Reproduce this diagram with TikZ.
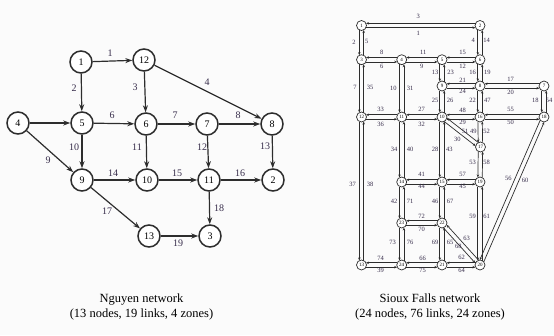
\documentclass[tikz,border=0pt]{standalone}
\usepackage{fontspec}
\setmainfont{Liberation Serif}
\usetikzlibrary{arrows.meta,calc}
\definecolor{ncol}{RGB}{45,45,45}
\definecolor{lcol}{RGB}{55,45,75}
\definecolor{bgc}{RGB}{251,251,251}
\begin{document}
\begin{tikzpicture}[x=1pt,y=-1pt,
  nnode/.style={circle,draw=ncol,line width=1.5pt,fill=white,minimum size=22pt,inner sep=0pt,font=\fontsize{10}{12}\selectfont},
  narrow/.style={draw=ncol,line width=1.2pt,-{Stealth[length=7pt,width=5pt]}},
  nlbl/.style={font=\fontsize{10}{12}\selectfont,text=lcol,inner sep=0pt},
  snode/.style={circle,draw=ncol,line width=0.7pt,fill=white,minimum size=10pt,inner sep=0pt,font=\fontsize{5}{6}\selectfont},
  slink/.style={draw=ncol,line width=0.7pt,-{Stealth[length=3pt,width=2.4pt]},shorten >=4.5pt,shorten <=4.5pt},
  slbl/.style={font=\fontsize{6.5}{7}\selectfont,text=lcol,inner sep=0pt},
  caption/.style={font=\fontsize{12.5}{14.5}\selectfont,align=center,inner sep=0pt}]
\useasboundingbox (0,0) rectangle (554,335);
\fill[bgc] (0,0) rectangle (554,335);
% ---------------- Nguyen network
\foreach \n/\x/\y in {1/81/62,12/144/60,4/18/123,5/82/123,6/146/124,7/207/124,8/272/124,9/82/180,10/147/180,11/209/180,2/273/180,13/149/236,3/210/236}
  \node[nnode] (n\n) at (\x,\y) {\n};
\foreach \a/\b in {1/12,1/5,12/6,12/8,4/5,5/6,6/7,7/8,5/9,4/9,6/10,7/11,8/2,9/10,10/11,11/2,9/13,11/3,13/3}
  \draw[narrow] (n\a) -- (n\b);
\foreach \t/\x/\y in {1/110/53,2/74/88,3/135/87,4/207/82,6/112/115,7/175/115,8/238/115,10/74/147,9/48/160,11/137/147,12/202/147,13/265/146,14/113/173,15/177/173,16/240/173,17/107/211,18/219/208,19/178/243}
  \node[nlbl] (nl\t) at (\x,\y) {\t};
% ---------------- Sioux Falls network
\foreach \n/\x/\y in {1/361.5/25.5,2/480/25.5,3/361.5/59.7,4/401.7/59.7,5/442/59.7,6/480/59.7,7/544/86,8/480/86,9/442/86,10/442/117,11/401.7/117,12/361.5/117,16/480/117,18/544/117,17/480.5/147,14/401.7/182,15/442/182,19/480/182,23/401.7/223,22/442/223,13/361.5/265,24/401.7/265,21/442/265,20/480/265}
  \node[snode] (s\n) at (\x,\y) {\n};
\foreach \a/\b in {1/2,1/3,2/6,3/4,3/12,4/5,4/11,5/6,5/9,6/8,7/8,7/18,8/9,8/16,9/10,10/11,10/15,10/16,10/17,11/12,11/14,12/13,13/24,14/15,14/23,15/19,15/22,16/17,16/18,17/19,18/20,19/20,20/21,20/22,21/22,21/24,22/23,23/24}{
  \draw[slink] ($(s\a.center)!2.2pt!-90:(s\b.center)$) -- ($(s\b.center)!2.2pt!90:(s\a.center)$);
  \draw[slink] ($(s\b.center)!2.2pt!-90:(s\a.center)$) -- ($(s\a.center)!2.2pt!90:(s\b.center)$);
}
\foreach \t/\x/\y in {3/418.3/16.7,1/418.3/33.3,2/354/42.7,5/366.7/41.7,4/473.3/40.7,14/486.7/40.7,8/381.7/52.7,6/381.7/66.7,11/423.3/52.7,9/421.7/66.7,15/462.7/52.7,12/462.7/66.7,13/435/72.7,23/450.7/72.7,16/472.7/72.7,19/487.3/72.7,21/462.7/80,24/462.7/91.7,17/510.7/79.3,20/510.7/92.7,7/355/87.3,35/370/87.3,10/393.3/88.3,31/410/88.3,25/435/100.7,26/450/100.7,22/472.7/100.7,47/487.3/100.7,18/535.3/100.7,54/549/100.7,33/380.7/109.3,36/380.7/124,27/421.7/109.3,32/421.7/124,48/462.7/110,29/462.7/122.7,55/510.7/109.3,50/510.7/122.7,30/457.3/139.3,51/465/131.7,49/473.3/131.7,52/486.7/131.7,34/394/149.3,40/410/149.3,28/435/149.3,43/449.3/149.3,53/472.7/162.3,58/486.7/162.3,37/352.7/184,38/370/184,56/508.3/178.3,60/525/180,41/421.7/174,44/421.7/186.7,57/462.7/174,45/462.7/186.7,42/394/201.7,71/410/201.7,46/435/201.7,67/450/201.7,59/472.7/216,61/486.7/216,72/421.7/216.7,70/421.7/229.3,73/392.7/242.7,76/410/242.7,69/435/242.7,65/450/242.7,63/466.7/238.3,68/458.3/246.7,74/380.7/258.3,39/380.7/270,66/422.7/258.3,75/422.7/270,62/461.7/257.3,64/461.7/270}
  \node[slbl] (sl\t) at (\x,\y) {\t};
% ---------------- captions
\node[caption] (cap1) at (141.5,307) {Nguyen network\\(13 nodes, 19 links, 4 zones)};
\node[caption] (cap2) at (430,307) {Sioux Falls network\\(24 nodes, 76 links, 24 zones)};
\end{tikzpicture}
\end{document}
